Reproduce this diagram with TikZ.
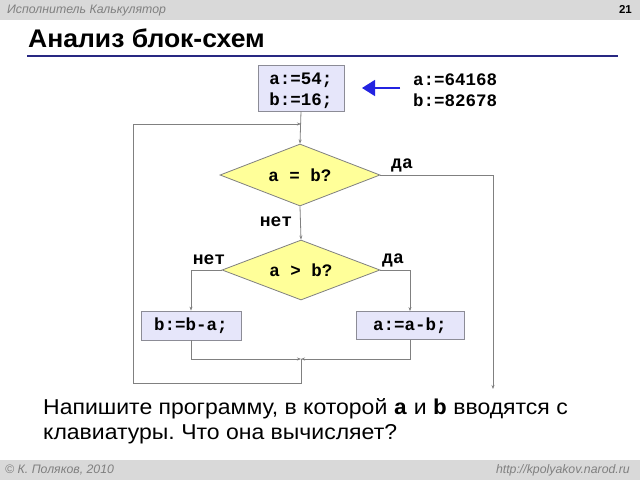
\documentclass[tikz,border=0pt]{standalone}
\usepackage{fontspec}
\setmainfont{Liberation Sans}
\newfontfamily\cour{Liberation Mono}
\usetikzlibrary{shapes.geometric,arrows.meta}
\frenchspacing
\definecolor{barbg}{RGB}{217,217,217}
\definecolor{hdrtxt}{RGB}{128,128,128}
\definecolor{boxfill}{RGB}{230,230,250}
\definecolor{boxline}{RGB}{140,140,150}
\definecolor{dfill}{RGB}{255,255,153}
\definecolor{lncol}{RGB}{128,128,128}
\definecolor{navy}{RGB}{40,40,130}
\definecolor{arrblue}{RGB}{35,35,225}
\tikzset{
  procbox/.style={draw=boxline, fill=boxfill, line width=0.8pt, inner sep=0pt, font=\cour\bfseries\fontsize{17.5}{21}\selectfont, align=center},
  decis/.style={diamond, draw=lncol, fill=dfill, line width=0.8pt, inner sep=0pt, aspect=2.67, font=\cour\bfseries\fontsize{17.5}{20}\selectfont},
  flow/.style={draw=lncol, line width=0.8pt},
  flowarr/.style={flow, -{Stealth[length=4pt,width=3pt]}},
  lbl/.style={font=\cour\bfseries\fontsize{18}{20}\selectfont, inner sep=0pt},
  hdr/.style={font=\itshape\fontsize{12.3}{14}\selectfont, text=hdrtxt, inner sep=0pt}
}
\begin{document}
\begin{tikzpicture}[x=1pt,y=-1pt]
\useasboundingbox (0,0) rectangle (640,480);
\fill[white] (0,0) rectangle (640,480);
% header / footer bars
\fill[barbg] (0,0) rectangle (640,20);
\fill[barbg] (0,460) rectangle (640,480);
\node[hdr, anchor=west] (hleft) at (7,11) {Исполнитель Калькулятор};
\node[font=\bfseries\fontsize{11.5}{13}\selectfont, inner sep=0pt, anchor=east] (pnum) at (632,9.5) {21};
\node[hdr, anchor=west] (fleft) at (5,470) {© К. Поляков, 2010};
\node[hdr, anchor=east] (fright) at (630,470) {http://kpolyakov.narod.ru};
% title
\node[font=\bfseries\fontsize{25.5}{30}\selectfont, inner sep=0pt, anchor=base west] (title) at (28,47) {\scalebox{1.04}[1]{Анализ блок-схем}};
\draw[navy, line width=2pt] (27,55.5) -- (618,55.5);
% flowchart nodes
\node[procbox, minimum width=86pt, minimum height=46pt] (init) at (301,88) {\rule{0pt}{17pt}a:=54;\\b:=16;};
\node[decis, minimum width=160pt, minimum height=62pt] (d1) at (300,175) {a = b?};
\node[decis, minimum width=158pt, minimum height=60pt] (d2) at (301,270) {a > b?};
\node[procbox, minimum width=100pt, minimum height=29pt] (bl) at (191,325.5) {b:=b-a;};
\node[procbox, minimum width=108pt, minimum height=28pt] (ar) at (410,325.5) {a:=a-b;};
\node[lbl, align=left, anchor=west, font=\cour\bfseries\fontsize{17.5}{21}\selectfont] (vals) at (413,90) {a:=64168\\b:=82678};
% coordinates
\coordinate (loopin) at (301,124);
\coordinate (join) at (301,359);
\coordinate (jl) at (191,359);
\coordinate (jr) at (410,359);
\coordinate (lb) at (301,383);
\coordinate (lbl2) at (133,383);
\coordinate (ltl) at (133,124);
\coordinate (exitc) at (493,175);
\coordinate (exitend) at (493,389);
\coordinate (d2l) at (191,270);
\coordinate (d2r) at (410,270);
\coordinate (barr) at (400,88);
\coordinate (barrend) at (362,88);
% connectors
\draw[flowarr] (init.south) -- (d1.north);
\draw[flowarr] (d1.south) -- (d2.north);
\draw[flowarr] (d1.east) -- (exitc) -- (exitend);
\draw[flowarr] (d2.west) -- (d2l) -- (bl.north);
\draw[flowarr] (d2.east) -- (d2r) -- (ar.north);
\draw[flowarr] (bl.south) -- (jl) -- (join);
\draw[flowarr] (ar.south) -- (jr) -- (join);
\draw[flowarr] (join) -- (lb) -- (lbl2) -- (ltl) -- (loopin);
\draw[arrblue, line width=1.5pt, -{Triangle[length=13pt,width=16pt]}] (barr) -- (barrend);
% labels
\node[lbl] (yes1) at (402,165) {да};
\node[lbl] (no1) at (276,222) {нет};
\node[lbl] (no2) at (209,260) {нет};
\node[lbl] (yes2) at (393,260) {да};
% question text
\node[font=\fontsize{21.5}{25}\selectfont, inner sep=0pt, anchor=base west, align=left] (q1) at (43,414.5) {\scalebox{1.07}[1]{Напишите программу, в которой {\cour\bfseries a} и {\cour\bfseries b} вводятся с}};
\node[font=\fontsize{21.5}{25}\selectfont, inner sep=0pt, anchor=base west, align=left] (q2) at (43,439.5) {\scalebox{1.07}[1]{клавиатуры. Что она вычисляет?}};
\end{tikzpicture}
\end{document}
